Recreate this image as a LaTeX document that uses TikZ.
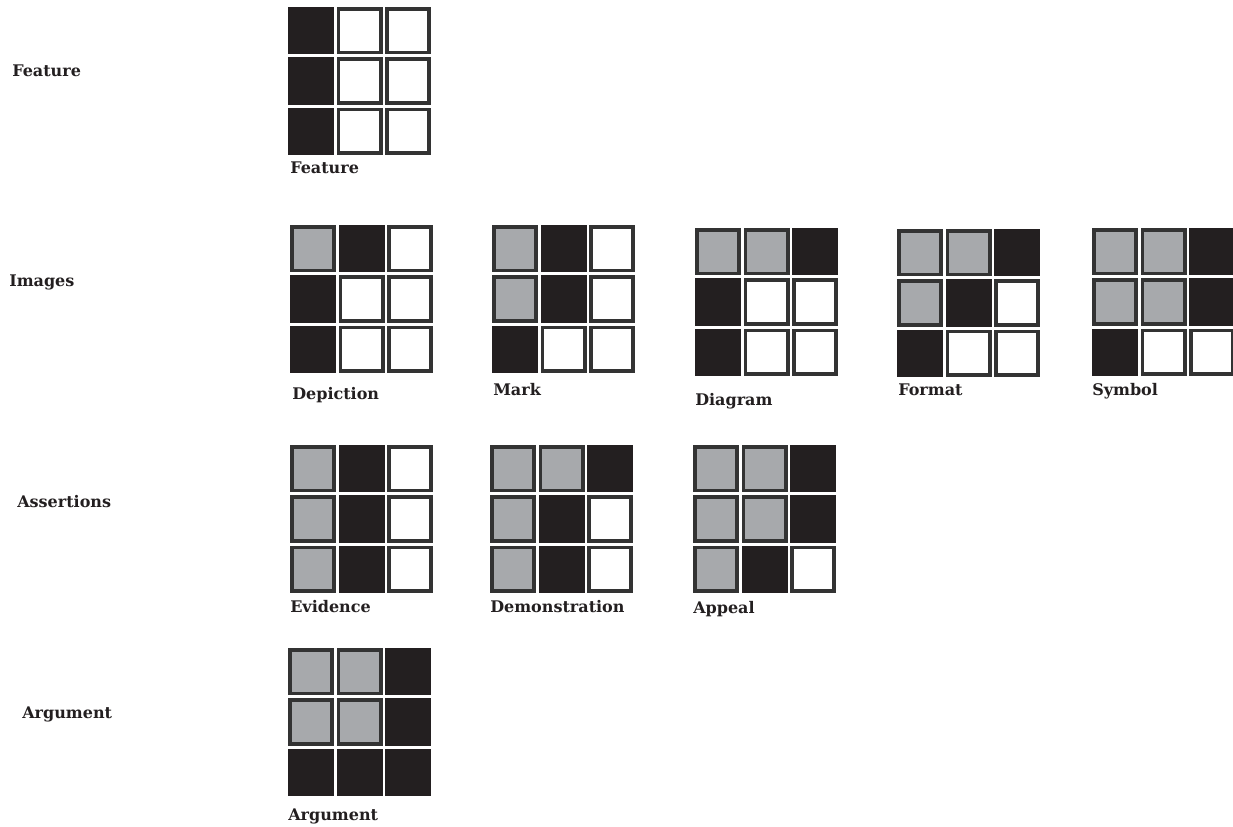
\documentclass[tikz,border=0pt]{standalone}
\usepackage{fontspec}
\setmainfont{DejaVu Serif}
\definecolor{cgray}{HTML}{A7A9AC}
\definecolor{cblack}{HTML}{231F20}
\definecolor{cedge}{HTML}{333333}
\tikzset{
  cellbase/.style={rectangle, minimum width=31.8pt, minimum height=32.9pt, inner sep=0pt, outer sep=0pt, line width=2.7pt},
  cg/.style={cellbase, fill=cgray, draw=cedge},
  ck/.style={cellbase, fill=cblack, draw=cblack},
  cw/.style={cellbase, fill=white, draw=cedge},
  lbl/.style={anchor=base west, inner sep=0pt, font=\fontsize{12}{14}\bfseries\selectfont, text=cblack},
}
\newcommand{\cellgrid}[4]{%
  \foreach \s [count=\n from 0] in {#4} {
    \pgfmathtruncatemacro\rr{div(\n,3)}
    \pgfmathtruncatemacro\cc{mod(\n,3)}
    \node[\s] (#1-\rr\cc) at ({#2+23+\cc*48.5},{#3+23.75+\rr*50.25}) {};
  }%
}
\begin{document}
\begin{tikzpicture}[x=0.75pt,y=-0.75pt]
\fill[white] (0,0) rectangle (1233,827);
\useasboundingbox (0,0) rectangle (1233,827);
\begin{scope}
\clip (0,0) rectangle (1233,827);
\cellgrid{feat}{288}{7}{ck,cw,cw,ck,cw,cw,ck,cw,cw}
\cellgrid{dep}{290}{225}{cg,ck,cw,ck,cw,cw,ck,cw,cw}
\cellgrid{mark}{492}{225}{cg,ck,cw,cg,ck,cw,ck,cw,cw}
\cellgrid{diag}{695}{228}{cg,cg,ck,ck,cw,cw,ck,cw,cw}
\cellgrid{form}{897}{229}{cg,cg,ck,cg,ck,cw,ck,cw,cw}
\cellgrid{symb}{1092}{228}{cg,cg,ck,cg,cg,ck,ck,cw,cw}
\cellgrid{evid}{290}{445}{cg,ck,cw,cg,ck,cw,cg,ck,cw}
\cellgrid{demo}{490}{445}{cg,cg,ck,cg,ck,cw,cg,ck,cw}
\cellgrid{appe}{693}{445}{cg,cg,ck,cg,cg,ck,cg,ck,cw}
\cellgrid{argu}{288}{648}{cg,cg,ck,cg,cg,ck,ck,ck,ck}
\end{scope}
% grid captions
\node[lbl] (l-feat) at (290,174) {Feature};
\node[lbl] (l-dep) at (292,400) {Depiction};
\node[lbl] (l-mark) at (493,396) {Mark};
\node[lbl] (l-diag) at (695,406) {Diagram};
\node[lbl] (l-form) at (898,396) {Format};
\node[lbl] (l-symb) at (1092,396) {Symbol};
\node[lbl] (l-evid) at (290,612) {Evidence};
\node[lbl] (l-demo) at (490,612) {Demonstration};
\node[lbl] (l-appe) at (693,613) {Appeal};
\node[lbl] (l-argu) at (288,820) {Argument};
% row headings
\node[lbl] (h-feat) at (12,77) {Feature};
\node[lbl] (h-img) at (9,287) {Images};
\node[lbl] (h-ass) at (17,508) {Assertions};
\node[lbl] (h-arg) at (22,718) {Argument};
\end{tikzpicture}
\end{document}
